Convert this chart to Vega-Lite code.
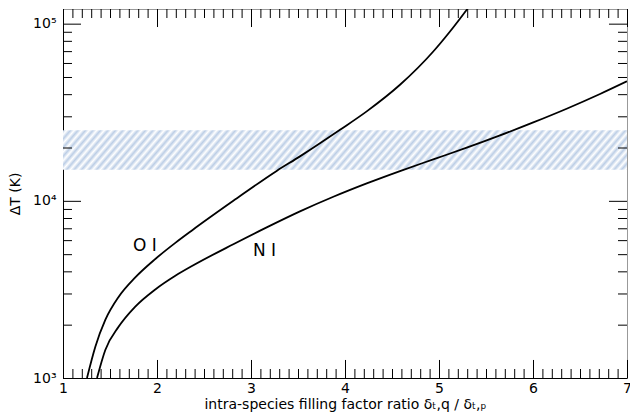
{
  "$schema": "https://vega.github.io/schema/vega-lite/v6.json",
  "width": 564,
  "height": 369,
  "autosize": {"type": "none"},
  "padding": {"left": 63, "top": 9, "right": 3, "bottom": 39},
  "config": {
    "view": {"stroke": "#999999", "strokeWidth": 1},
    "font": "DejaVu Sans",
    "axis": {"labelFont": "DejaVu Sans", "titleFont": "DejaVu Sans", "labelColor": "#000000", "titleColor": "#000000", "grid": false}
  },
  "datasets": {
    "curves": [
      {"species": "O I", "x": 1.255, "T": 1000},
      {"species": "O I", "x": 1.344, "T": 1503},
      {"species": "O I", "x": 1.450, "T": 2128},
      {"species": "O I", "x": 1.593, "T": 2877},
      {"species": "O I", "x": 1.769, "T": 3698},
      {"species": "O I", "x": 1.982, "T": 4698},
      {"species": "O I", "x": 2.195, "T": 5792},
      {"species": "O I", "x": 2.372, "T": 6808},
      {"species": "O I", "x": 2.812, "T": 10000},
      {"species": "O I", "x": 3.273, "T": 14757},
      {"species": "O I", "x": 3.521, "T": 17820},
      {"species": "O I", "x": 3.947, "T": 25180},
      {"species": "O I", "x": 4.231, "T": 31990},
      {"species": "O I", "x": 4.585, "T": 45190},
      {"species": "O I", "x": 4.939, "T": 69660},
      {"species": "O I", "x": 5.117, "T": 90370},
      {"species": "O I", "x": 5.295, "T": 119950},
      {"species": "O I", "x": 5.436, "T": 151700},
      {"species": "N I", "x": 1.362, "T": 1000},
      {"species": "N I", "x": 1.450, "T": 1439},
      {"species": "N I", "x": 1.593, "T": 1950},
      {"species": "N I", "x": 1.769, "T": 2529},
      {"species": "N I", "x": 1.982, "T": 3162},
      {"species": "N I", "x": 2.195, "T": 3776},
      {"species": "N I", "x": 2.372, "T": 4285},
      {"species": "N I", "x": 2.812, "T": 5689},
      {"species": "N I", "x": 3.167, "T": 7079},
      {"species": "N I", "x": 3.521, "T": 8716},
      {"species": "N I", "x": 3.876, "T": 10540},
      {"species": "N I", "x": 4.231, "T": 12540},
      {"species": "N I", "x": 4.585, "T": 14720},
      {"species": "N I", "x": 4.939, "T": 17140},
      {"species": "N I", "x": 5.295, "T": 19950},
      {"species": "N I", "x": 5.649, "T": 23400},
      {"species": "N I", "x": 6.003, "T": 27710},
      {"species": "N I", "x": 6.358, "T": 33110},
      {"species": "N I", "x": 6.713, "T": 40090},
      {"species": "N I", "x": 7.0, "T": 47290}
    ],
    "labels": [
      {"x": 1.872, "T": 5570, "label": "O I"},
      {"x": 3.144, "T": 5220, "label": "N I"}
    ],
    "band": [
      {"lo": 15000, "hi": 25000}
    ],
    "xmajor": [{"v": 1}, {"v": 2}, {"v": 3}, {"v": 4}, {"v": 5}, {"v": 6}, {"v": 7}],
    "xminor": [
      {"v": 1.1}, {"v": 1.2}, {"v": 1.3}, {"v": 1.4}, {"v": 1.5}, {"v": 1.6}, {"v": 1.7}, {"v": 1.8}, {"v": 1.9},
      {"v": 2.1}, {"v": 2.2}, {"v": 2.3}, {"v": 2.4}, {"v": 2.5}, {"v": 2.6}, {"v": 2.7}, {"v": 2.8}, {"v": 2.9},
      {"v": 3.1}, {"v": 3.2}, {"v": 3.3}, {"v": 3.4}, {"v": 3.5}, {"v": 3.6}, {"v": 3.7}, {"v": 3.8}, {"v": 3.9},
      {"v": 4.1}, {"v": 4.2}, {"v": 4.3}, {"v": 4.4}, {"v": 4.5}, {"v": 4.6}, {"v": 4.7}, {"v": 4.8}, {"v": 4.9},
      {"v": 5.1}, {"v": 5.2}, {"v": 5.3}, {"v": 5.4}, {"v": 5.5}, {"v": 5.6}, {"v": 5.7}, {"v": 5.8}, {"v": 5.9},
      {"v": 6.1}, {"v": 6.2}, {"v": 6.3}, {"v": 6.4}, {"v": 6.5}, {"v": 6.6}, {"v": 6.7}, {"v": 6.8}, {"v": 6.9}
    ],
    "ymajor": [{"v": 1000}, {"v": 10000}, {"v": 100000}],
    "yminor": [
      {"v": 2000}, {"v": 3000}, {"v": 4000}, {"v": 5000}, {"v": 6000}, {"v": 7000}, {"v": 8000}, {"v": 9000},
      {"v": 20000}, {"v": 30000}, {"v": 40000}, {"v": 50000}, {"v": 60000}, {"v": 70000}, {"v": 80000}, {"v": 90000}
    ]
  },
  "layer": [
    {
      "data": {"name": "band"},
      "mark": {
        "type": "rect",
        "fill": {
          "gradient": "linear",
          "x1": 0, "y1": 0, "x2": 1.06, "y2": 0.0636,
          "stops": [
            {"offset": 0, "color": "#bccee6"}, {"offset": 0.00625, "color": "#ffffff"}, {"offset": 0.0125, "color": "#bccee6"}, {"offset": 0.01875, "color": "#ffffff"}, {"offset": 0.025, "color": "#bccee6"}, {"offset": 0.03125, "color": "#ffffff"}, {"offset": 0.0375, "color": "#bccee6"}, {"offset": 0.04375, "color": "#ffffff"}, {"offset": 0.05, "color": "#bccee6"}, {"offset": 0.05625, "color": "#ffffff"}, {"offset": 0.0625, "color": "#bccee6"}, {"offset": 0.06875, "color": "#ffffff"}, {"offset": 0.075, "color": "#bccee6"}, {"offset": 0.08125, "color": "#ffffff"}, {"offset": 0.0875, "color": "#bccee6"}, {"offset": 0.09375, "color": "#ffffff"},
            {"offset": 0.1, "color": "#bccee6"}, {"offset": 0.10625, "color": "#ffffff"}, {"offset": 0.1125, "color": "#bccee6"}, {"offset": 0.11875, "color": "#ffffff"}, {"offset": 0.125, "color": "#bccee6"}, {"offset": 0.13125, "color": "#ffffff"}, {"offset": 0.1375, "color": "#bccee6"}, {"offset": 0.14375, "color": "#ffffff"}, {"offset": 0.15, "color": "#bccee6"}, {"offset": 0.15625, "color": "#ffffff"}, {"offset": 0.1625, "color": "#bccee6"}, {"offset": 0.16875, "color": "#ffffff"}, {"offset": 0.175, "color": "#bccee6"}, {"offset": 0.18125, "color": "#ffffff"}, {"offset": 0.1875, "color": "#bccee6"}, {"offset": 0.19375, "color": "#ffffff"},
            {"offset": 0.2, "color": "#bccee6"}, {"offset": 0.20625, "color": "#ffffff"}, {"offset": 0.2125, "color": "#bccee6"}, {"offset": 0.21875, "color": "#ffffff"}, {"offset": 0.225, "color": "#bccee6"}, {"offset": 0.23125, "color": "#ffffff"}, {"offset": 0.2375, "color": "#bccee6"}, {"offset": 0.24375, "color": "#ffffff"}, {"offset": 0.25, "color": "#bccee6"}, {"offset": 0.25625, "color": "#ffffff"}, {"offset": 0.2625, "color": "#bccee6"}, {"offset": 0.26875, "color": "#ffffff"}, {"offset": 0.275, "color": "#bccee6"}, {"offset": 0.28125, "color": "#ffffff"}, {"offset": 0.2875, "color": "#bccee6"}, {"offset": 0.29375, "color": "#ffffff"},
            {"offset": 0.3, "color": "#bccee6"}, {"offset": 0.30625, "color": "#ffffff"}, {"offset": 0.3125, "color": "#bccee6"}, {"offset": 0.31875, "color": "#ffffff"}, {"offset": 0.325, "color": "#bccee6"}, {"offset": 0.33125, "color": "#ffffff"}, {"offset": 0.3375, "color": "#bccee6"}, {"offset": 0.34375, "color": "#ffffff"}, {"offset": 0.35, "color": "#bccee6"}, {"offset": 0.35625, "color": "#ffffff"}, {"offset": 0.3625, "color": "#bccee6"}, {"offset": 0.36875, "color": "#ffffff"}, {"offset": 0.375, "color": "#bccee6"}, {"offset": 0.38125, "color": "#ffffff"}, {"offset": 0.3875, "color": "#bccee6"}, {"offset": 0.39375, "color": "#ffffff"},
            {"offset": 0.4, "color": "#bccee6"}, {"offset": 0.40625, "color": "#ffffff"}, {"offset": 0.4125, "color": "#bccee6"}, {"offset": 0.41875, "color": "#ffffff"}, {"offset": 0.425, "color": "#bccee6"}, {"offset": 0.43125, "color": "#ffffff"}, {"offset": 0.4375, "color": "#bccee6"}, {"offset": 0.44375, "color": "#ffffff"}, {"offset": 0.45, "color": "#bccee6"}, {"offset": 0.45625, "color": "#ffffff"}, {"offset": 0.4625, "color": "#bccee6"}, {"offset": 0.46875, "color": "#ffffff"}, {"offset": 0.475, "color": "#bccee6"}, {"offset": 0.48125, "color": "#ffffff"}, {"offset": 0.4875, "color": "#bccee6"}, {"offset": 0.49375, "color": "#ffffff"},
            {"offset": 0.5, "color": "#bccee6"}, {"offset": 0.50625, "color": "#ffffff"}, {"offset": 0.5125, "color": "#bccee6"}, {"offset": 0.51875, "color": "#ffffff"}, {"offset": 0.525, "color": "#bccee6"}, {"offset": 0.53125, "color": "#ffffff"}, {"offset": 0.5375, "color": "#bccee6"}, {"offset": 0.54375, "color": "#ffffff"}, {"offset": 0.55, "color": "#bccee6"}, {"offset": 0.55625, "color": "#ffffff"}, {"offset": 0.5625, "color": "#bccee6"}, {"offset": 0.56875, "color": "#ffffff"}, {"offset": 0.575, "color": "#bccee6"}, {"offset": 0.58125, "color": "#ffffff"}, {"offset": 0.5875, "color": "#bccee6"}, {"offset": 0.59375, "color": "#ffffff"},
            {"offset": 0.6, "color": "#bccee6"}, {"offset": 0.60625, "color": "#ffffff"}, {"offset": 0.6125, "color": "#bccee6"}, {"offset": 0.61875, "color": "#ffffff"}, {"offset": 0.625, "color": "#bccee6"}, {"offset": 0.63125, "color": "#ffffff"}, {"offset": 0.6375, "color": "#bccee6"}, {"offset": 0.64375, "color": "#ffffff"}, {"offset": 0.65, "color": "#bccee6"}, {"offset": 0.65625, "color": "#ffffff"}, {"offset": 0.6625, "color": "#bccee6"}, {"offset": 0.66875, "color": "#ffffff"}, {"offset": 0.675, "color": "#bccee6"}, {"offset": 0.68125, "color": "#ffffff"}, {"offset": 0.6875, "color": "#bccee6"}, {"offset": 0.69375, "color": "#ffffff"},
            {"offset": 0.7, "color": "#bccee6"}, {"offset": 0.70625, "color": "#ffffff"}, {"offset": 0.7125, "color": "#bccee6"}, {"offset": 0.71875, "color": "#ffffff"}, {"offset": 0.725, "color": "#bccee6"}, {"offset": 0.73125, "color": "#ffffff"}, {"offset": 0.7375, "color": "#bccee6"}, {"offset": 0.74375, "color": "#ffffff"}, {"offset": 0.75, "color": "#bccee6"}, {"offset": 0.75625, "color": "#ffffff"}, {"offset": 0.7625, "color": "#bccee6"}, {"offset": 0.76875, "color": "#ffffff"}, {"offset": 0.775, "color": "#bccee6"}, {"offset": 0.78125, "color": "#ffffff"}, {"offset": 0.7875, "color": "#bccee6"}, {"offset": 0.79375, "color": "#ffffff"},
            {"offset": 0.8, "color": "#bccee6"}, {"offset": 0.80625, "color": "#ffffff"}, {"offset": 0.8125, "color": "#bccee6"}, {"offset": 0.81875, "color": "#ffffff"}, {"offset": 0.825, "color": "#bccee6"}, {"offset": 0.83125, "color": "#ffffff"}, {"offset": 0.8375, "color": "#bccee6"}, {"offset": 0.84375, "color": "#ffffff"}, {"offset": 0.85, "color": "#bccee6"}, {"offset": 0.85625, "color": "#ffffff"}, {"offset": 0.8625, "color": "#bccee6"}, {"offset": 0.86875, "color": "#ffffff"}, {"offset": 0.875, "color": "#bccee6"}, {"offset": 0.88125, "color": "#ffffff"}, {"offset": 0.8875, "color": "#bccee6"}, {"offset": 0.89375, "color": "#ffffff"},
            {"offset": 0.9, "color": "#bccee6"}, {"offset": 0.90625, "color": "#ffffff"}, {"offset": 0.9125, "color": "#bccee6"}, {"offset": 0.91875, "color": "#ffffff"}, {"offset": 0.925, "color": "#bccee6"}, {"offset": 0.93125, "color": "#ffffff"}, {"offset": 0.9375, "color": "#bccee6"}, {"offset": 0.94375, "color": "#ffffff"}, {"offset": 0.95, "color": "#bccee6"}, {"offset": 0.95625, "color": "#ffffff"}, {"offset": 0.9625, "color": "#bccee6"}, {"offset": 0.96875, "color": "#ffffff"}, {"offset": 0.975, "color": "#bccee6"}, {"offset": 0.98125, "color": "#ffffff"}, {"offset": 0.9875, "color": "#bccee6"}, {"offset": 0.99375, "color": "#ffffff"},
            {"offset": 1, "color": "#bccee6"}
          ]
        }
      },
      "encoding": {
        "y": {"field": "lo", "type": "quantitative", "scale": {"type": "log", "domain": [1000, 121000], "nice": false}, "axis": null},
        "y2": {"field": "hi"}
      }
    },
    {
      "data": {"name": "curves"},
      "transform": [{"filter": "datum.species === 'O I'"}],
      "mark": {"type": "line", "color": "#000000", "strokeWidth": 1.8, "interpolate": "monotone", "clip": true},
      "encoding": {
        "x": {
          "field": "x", "type": "quantitative",
          "scale": {"domain": [1, 7], "nice": false, "zero": false},
          "axis": {
            "orient": "bottom", "values": [1, 2, 3, 4, 5, 6, 7], "ticks": false,
            "domainColor": "#000000", "domainWidth": 1,
            "labelFontSize": 14, "labelPadding": 3, "labelFlush": false,
            "title": "intra-species filling factor ratio δₜ,q / δₜ,ₚ",
            "titleFontSize": 14, "titleFontWeight": "normal", "titlePadding": 2
          }
        },
        "y": {
          "field": "T", "type": "quantitative",
          "scale": {"type": "log", "domain": [1000, 121000], "nice": false},
          "axis": {
            "orient": "left", "values": [1000, 10000, 100000], "ticks": false,
            "labelExpr": "datum.value == 1000 ? '10³' : datum.value == 10000 ? '10⁴' : '10⁵'",
            "domainColor": "#000000", "domainWidth": 1,
            "labelFontSize": 14, "labelPadding": 7, "labelFlush": false,
            "title": "ΔT (K)", "titleFontSize": 14, "titleFontWeight": "normal", "titlePadding": 10
          }
        }
      }
    },
    {
      "data": {"name": "curves"},
      "transform": [{"filter": "datum.species === 'N I'"}],
      "mark": {"type": "line", "color": "#000000", "strokeWidth": 1.8, "interpolate": "monotone", "clip": true},
      "encoding": {
        "x": {"field": "x", "type": "quantitative", "scale": {"domain": [1, 7], "nice": false, "zero": false}, "axis": null},
        "y": {"field": "T", "type": "quantitative", "scale": {"type": "log", "domain": [1000, 121000], "nice": false}, "axis": null}
      }
    },
    {
      "data": {"name": "labels"},
      "mark": {"type": "text", "font": "DejaVu Sans", "fontSize": 17, "color": "#000000", "align": "center", "baseline": "middle"},
      "encoding": {
        "text": {"field": "label"},
        "x": {"field": "x", "type": "quantitative", "scale": {"domain": [1, 7], "nice": false, "zero": false}, "axis": null},
        "y": {"field": "T", "type": "quantitative", "scale": {"type": "log", "domain": [1000, 121000], "nice": false}, "axis": null}
      }
    },
    {
      "data": {"name": "xmajor"},
      "mark": {"type": "rule", "color": "#000000", "strokeWidth": 1, "xOffset": 0.5},
      "encoding": {
        "x": {"field": "v", "type": "quantitative", "scale": {"domain": [1, 7], "nice": false, "zero": false}, "axis": null},
        "y": {"datum": 1000, "type": "quantitative", "scale": {"type": "log", "domain": [1000, 121000], "nice": false}, "axis": null},
        "y2": {"datum": 1264}
      }
    },
    {
      "data": {"name": "xmajor"},
      "mark": {"type": "rule", "color": "#000000", "strokeWidth": 1, "xOffset": 0.5},
      "encoding": {
        "x": {"field": "v", "type": "quantitative", "scale": {"domain": [1, 7], "nice": false, "zero": false}, "axis": null},
        "y": {"datum": 121000, "type": "quantitative", "scale": {"type": "log", "domain": [1000, 121000], "nice": false}, "axis": null},
        "y2": {"datum": 95740}
      }
    },
    {
      "data": {"name": "xminor"},
      "mark": {"type": "rule", "color": "#000000", "strokeWidth": 1, "xOffset": 0.5},
      "encoding": {
        "x": {"field": "v", "type": "quantitative", "scale": {"domain": [1, 7], "nice": false, "zero": false}, "axis": null},
        "y": {"datum": 1000, "type": "quantitative", "scale": {"type": "log", "domain": [1000, 121000], "nice": false}, "axis": null},
        "y2": {"datum": 1124}
      }
    },
    {
      "data": {"name": "xminor"},
      "mark": {"type": "rule", "color": "#000000", "strokeWidth": 1, "xOffset": 0.5},
      "encoding": {
        "x": {"field": "v", "type": "quantitative", "scale": {"domain": [1, 7], "nice": false, "zero": false}, "axis": null},
        "y": {"datum": 121000, "type": "quantitative", "scale": {"type": "log", "domain": [1000, 121000], "nice": false}, "axis": null},
        "y2": {"datum": 107630}
      }
    },
    {
      "data": {"name": "ymajor"},
      "mark": {"type": "rule", "color": "#000000", "strokeWidth": 1, "yOffset": 0.5},
      "encoding": {
        "y": {"field": "v", "type": "quantitative", "scale": {"type": "log", "domain": [1000, 121000], "nice": false}, "axis": null},
        "x": {"datum": 1, "type": "quantitative", "scale": {"domain": [1, 7], "nice": false, "zero": false}, "axis": null},
        "x2": {"datum": 1.1915}
      }
    },
    {
      "data": {"name": "ymajor"},
      "mark": {"type": "rule", "color": "#000000", "strokeWidth": 1, "yOffset": 0.5},
      "encoding": {
        "y": {"field": "v", "type": "quantitative", "scale": {"type": "log", "domain": [1000, 121000], "nice": false}, "axis": null},
        "x": {"datum": 7, "type": "quantitative", "scale": {"domain": [1, 7], "nice": false, "zero": false}, "axis": null},
        "x2": {"datum": 6.8085}
      }
    },
    {
      "data": {"name": "yminor"},
      "mark": {"type": "rule", "color": "#000000", "strokeWidth": 1, "yOffset": 0.5},
      "encoding": {
        "y": {"field": "v", "type": "quantitative", "scale": {"type": "log", "domain": [1000, 121000], "nice": false}, "axis": null},
        "x": {"datum": 1, "type": "quantitative", "scale": {"domain": [1, 7], "nice": false, "zero": false}, "axis": null},
        "x2": {"datum": 1.0957}
      }
    },
    {
      "data": {"name": "yminor"},
      "mark": {"type": "rule", "color": "#000000", "strokeWidth": 1, "yOffset": 0.5},
      "encoding": {
        "y": {"field": "v", "type": "quantitative", "scale": {"type": "log", "domain": [1000, 121000], "nice": false}, "axis": null},
        "x": {"datum": 7, "type": "quantitative", "scale": {"domain": [1, 7], "nice": false, "zero": false}, "axis": null},
        "x2": {"datum": 6.9043}
      }
    }
  ],
  "resolve": {"axis": {"x": "independent", "y": "independent"}}
}
